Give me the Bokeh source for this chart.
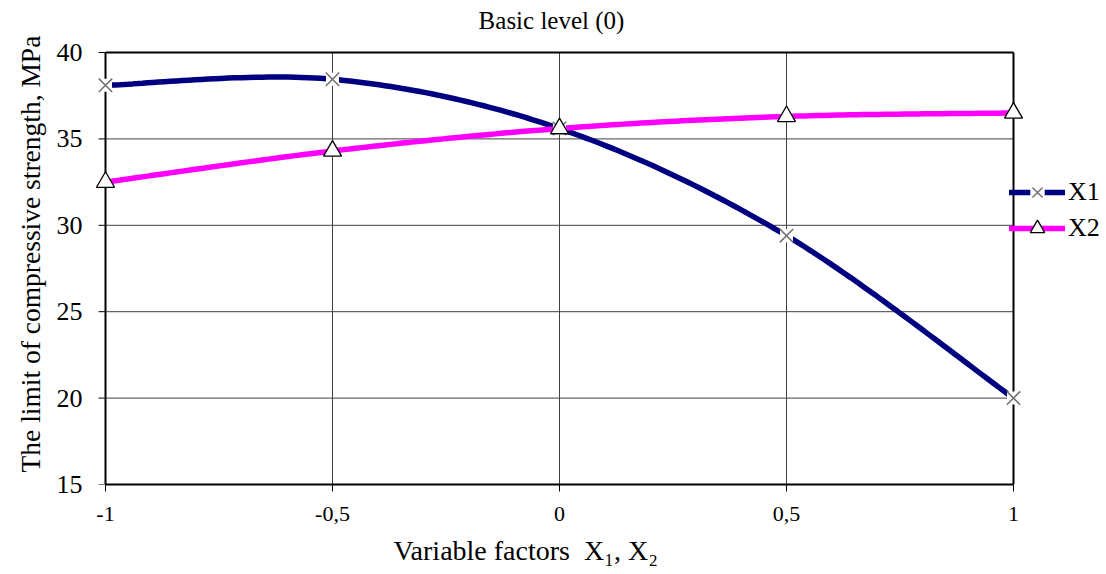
import numpy as np
from bokeh.plotting import figure
from bokeh.models import Range1d, FixedTicker, Legend, LegendItem, Title
from bokeh.core.properties import value
from bokeh.embed import file_html
from bokeh.resources import INLINE

factors = [-1.0, -0.5, 0.0, 0.5, 1.0]
x1_values = [38.1, 38.45, 35.6, 29.4, 20.0]
x2_values = [32.5, 34.3, 35.6, 36.3, 36.5]
x_tick_labels = {-1: "-1", -0.5: "-0,5", 0: "0", 0.5: "0,5", 1: "1"}
y_ticks = [15, 20, 25, 30, 35, 40]

FONT = "Liberation Serif"
X_MIN, X_MAX = -1.0, 1.0
Y_MIN, Y_MAX = 15, 40
PX_X = 454.0    # pixels per x unit
PX_Y = 17.28    # pixels per y unit
TICK = 7 / PX_X  # y tick length (data units along x)


def smooth(xs, ys, n=40):
    # Excel-like smoothed line (Bezier segments) through the data points
    P = list(zip(xs, ys))
    out_x, out_y = [], []
    for i in range(len(P) - 1):
        p0 = P[i - 1] if i > 0 else P[i]
        p1 = P[i]
        p2 = P[i + 1]
        p3 = P[i + 2] if i + 2 < len(P) else P[i + 1]
        c1 = (p1[0] + (p2[0] - p0[0]) / 6, p1[1] + (p2[1] - p0[1]) / 6)
        c2 = (p2[0] - (p3[0] - p1[0]) / 6, p2[1] - (p3[1] - p1[1]) / 6)
        t = np.linspace(0, 1, n)
        bx = (1 - t) ** 3 * p1[0] + 3 * (1 - t) ** 2 * t * c1[0] + 3 * (1 - t) * t ** 2 * c2[0] + t ** 3 * p2[0]
        by = (1 - t) ** 3 * p1[1] + 3 * (1 - t) ** 2 * t * c1[1] + 3 * (1 - t) * t ** 2 * c2[1] + t ** 3 * p2[1]
        if i > 0:
            bx, by = bx[1:], by[1:]
        out_x.extend(bx.tolist())
        out_y.extend(by.tolist())
    return out_x, out_y


# plot frame extended: a little left (markers at x=-1), right (legend area) and up (title area)
p = figure(width=1106, height=574, output_backend="svg", toolbar_location=None, title=None,
           x_range=Range1d(X_MIN - 11 / PX_X, X_MAX + 93 / PX_X),
           y_range=Range1d(Y_MIN, Y_MAX + 52 / PX_Y),
           min_border_left=94, min_border_right=0, min_border_top=0, min_border_bottom=90)

p.outline_line_color = None
p.background_fill_color = "white"
p.border_fill_color = "white"

for ax in (p.xaxis[0], p.yaxis[0]):
    ax.minor_tick_line_color = None
    ax.major_label_text_font = FONT
    ax.major_label_text_color = "#000000"

p.xaxis.axis_line_color = "#000000"
p.xaxis.axis_line_width = 2
p.xaxis.major_tick_line_color = "#000000"
p.xaxis.major_tick_line_width = 1
p.xaxis.major_tick_out = 7
p.xaxis.major_tick_in = 0
p.xaxis.ticker = FixedTicker(ticks=factors)
p.xaxis.major_label_overrides = x_tick_labels
p.xaxis.major_label_standoff = 15
p.xaxis.major_label_text_font_size = "22px"
p.xaxis.bounds = (X_MIN, X_MAX)
p.xaxis.axis_label = None

# y axis: labels from the library axis; its line and ticks drawn at x = -1 below
p.yaxis.ticker = FixedTicker(ticks=y_ticks)
p.yaxis.axis_line_color = None
p.yaxis.major_tick_line_color = None
p.yaxis.major_tick_out = 0
p.yaxis.major_tick_in = 0
p.yaxis.major_label_standoff = 12
p.yaxis.major_label_text_font_size = "26px"
p.yaxis.axis_label = None

ylabel = Title(text="The limit of compressive strength, MPa", align="left", offset=12,
               text_font=FONT, text_font_size="27.5px", text_font_style="normal",
               text_color="#000000", standoff=16)
p.add_layout(ylabel, "left")

xlabel = Title(text="Variable factors \u00a0X\u2081, X\u2082", align="left", offset=299,
               text_font=FONT, text_font_size="28px", text_font_style="normal",
               text_color="#000000", standoff=18)
p.add_layout(xlabel, "below")

# chart title (inside the extended frame, above the plot box)
p.text(x=[0], y=[Y_MAX + 32 / PX_Y], text=["Basic level (0)"], x_offset=-8,
       text_font=value(FONT), text_font_size="25px", text_color="#000000",
       text_align="center", text_baseline="middle")

# grid
p.xgrid.grid_line_color = None
p.ygrid.grid_line_color = None
inner_y = y_ticks[1:-1]
p.segment(x0=[X_MIN] * len(inner_y), x1=[X_MAX] * len(inner_y), y0=inner_y, y1=inner_y,
          line_color="#404040", line_width=1)
inner_x = factors[1:-1]
p.segment(x0=inner_x, x1=inner_x, y0=[Y_MIN] * len(inner_x), y1=[Y_MAX] * len(inner_x),
          line_color="#404040", line_width=1)
# y tick marks at x = -1
p.segment(x0=[X_MIN - TICK] * len(y_ticks), x1=[X_MIN] * len(y_ticks), y0=y_ticks, y1=y_ticks,
          line_color="#000000", line_width=1)
# box: left, top and right
p.segment(x0=[X_MIN, X_MIN, X_MAX], x1=[X_MIN, X_MAX, X_MAX],
          y0=[Y_MIN, Y_MAX, Y_MIN], y1=[Y_MAX, Y_MAX, Y_MAX],
          line_color="#000000", line_width=2)

sx1, sy1 = smooth(factors, x1_values)
sx2, sy2 = smooth(factors, x2_values)

l1 = p.line(sx1, sy1, line_color="#000080", line_width=5.5, line_cap="round")
l2 = p.line(sx2, sy2, line_color="#FF00FF", line_width=5.5, line_cap="round")

bg1 = p.scatter(factors, x1_values, marker="square", size=13, fill_color="white", line_color=None)
m1 = p.scatter(factors, x1_values, marker="x", size=19, line_color="#707070", line_width=1.5)
m2 = p.scatter(factors, x2_values, marker="triangle", size=18, fill_color="white",
               line_color="#000000", line_width=1.3)

legend = Legend(items=[LegendItem(label="X1", renderers=[l1, bg1, m1]),
                       LegendItem(label="X2", renderers=[l2, m2])],
                location=(915, 238))
legend.border_line_color = None
legend.background_fill_alpha = 0
legend.padding = 0
legend.margin = 0
legend.spacing = 0
legend.glyph_width = 56
legend.glyph_height = 36
legend.label_standoff = 3
legend.label_text_font = FONT
legend.label_text_font_size = "26px"
legend.label_text_color = "#000000"
p.add_layout(legend, "center")

open("out.html", "w").write(file_html(p, INLINE))
